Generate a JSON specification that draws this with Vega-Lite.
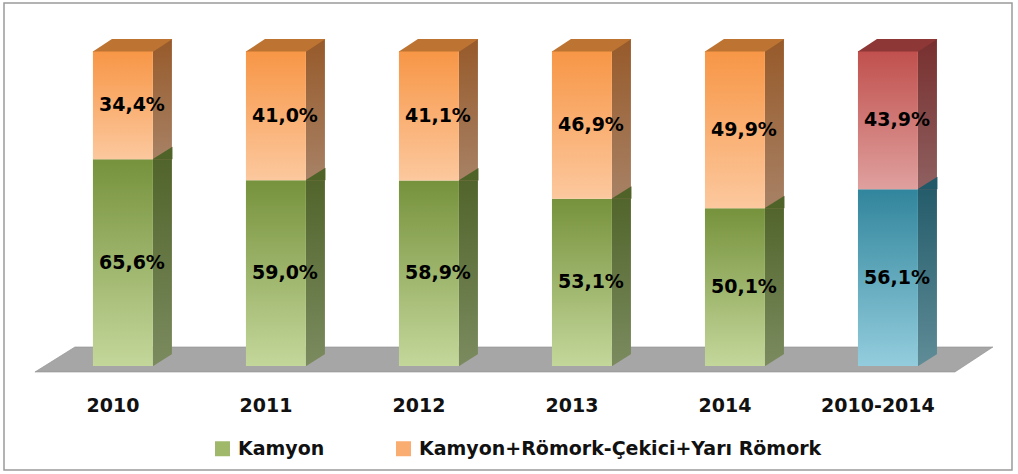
{
  "$schema": "https://vega.github.io/schema/vega-lite/v6.json",
  "width": 1008,
  "height": 467,
  "autosize": {"type": "none"},
  "padding": {"left": 4, "top": 3, "right": 6, "bottom": 4},
  "background": "#ffffff",
  "config": {
    "view": {"stroke": "#9a9a9a", "strokeWidth": 1.5},
    "locale": {"number": {"decimal": ",", "thousands": ".", "grouping": [3], "currency": ["", " TL"]}}
  },
  "data": {"values": [
    {"year": "2010", "type": "Kamyon", "value": 0.656},
    {"year": "2010", "type": "Kamyon+Römork-Çekici+Yarı Römork", "value": 0.344},
    {"year": "2011", "type": "Kamyon", "value": 0.590},
    {"year": "2011", "type": "Kamyon+Römork-Çekici+Yarı Römork", "value": 0.410},
    {"year": "2012", "type": "Kamyon", "value": 0.589},
    {"year": "2012", "type": "Kamyon+Römork-Çekici+Yarı Römork", "value": 0.411},
    {"year": "2013", "type": "Kamyon", "value": 0.531},
    {"year": "2013", "type": "Kamyon+Römork-Çekici+Yarı Römork", "value": 0.469},
    {"year": "2014", "type": "Kamyon", "value": 0.501},
    {"year": "2014", "type": "Kamyon+Römork-Çekici+Yarı Römork", "value": 0.499},
    {"year": "2010-2014", "type": "Kamyon", "value": 0.561},
    {"year": "2010-2014", "type": "Kamyon+Römork-Çekici+Yarı Römork", "value": 0.439}
  ]},
  "transform": [
    {"stack": "value", "groupby": ["year"], "sort": [{"field": "type", "order": "ascending"}], "as": ["lo", "hi"]}
  ],
  "encoding": {
    "x": {
      "field": "year", "type": "nominal", "sort": null,
      "scale": {"type": "band", "paddingInner": 0.608, "paddingOuter": 0.598, "align": 0.486},
      "axis": {
        "title": null, "domain": false, "ticks": false, "grid": false,
        "labelAngle": 0, "offset": -65, "labelPadding": 0, "labelBaseline": "middle",
        "labelOffset": -10,
        "labelFont": "DejaVu Sans", "labelFontWeight": "bold", "labelFontSize": 19, "labelColor": "#111111"
      }
    }
  },
  "layer": [
    {
      "transform": [{"filter": "datum.year === '2010' && datum.type === 'Kamyon'"}],
      "mark": {"type": "point", "shape": "M -88 6 L 832 6 L 870 -19 L -48 -19 Z", "size": 4, "filled": true, "opacity": 1, "color": "#a6a6a6", "stroke": "#8f8f8f", "strokeWidth": 0.6},
      "encoding": {"y": {"field": "lo", "type": "quantitative", "scale": {"domain": [-0.3302, 1.1524], "nice": false, "zero": false}, "axis": null}}
    },
    {
      "transform": [{"filter": "datum.type === 'Kamyon' && datum.year !== '2010-2014'"}],
      "mark": {"type": "bar", "width": 19, "xOffset": 39.5, "yOffset": -12,
        "color": {"gradient": "linear", "x1": 0, "y1": 0, "x2": 0, "y2": 1, "stops": [{"offset": 0, "color": "#4f6228"}, {"offset": 1, "color": "#7b8b5f"}]}},
      "encoding": {"y": {"field": "hi", "type": "quantitative"}, "y2": {"field": "lo"}}
    },
    {
      "transform": [{"filter": "datum.type === 'Kamyon' && datum.year === '2010-2014'"}],
      "mark": {"type": "bar", "width": 19, "xOffset": 39.5, "yOffset": -12,
        "color": {"gradient": "linear", "x1": 0, "y1": 0, "x2": 0, "y2": 1, "stops": [{"offset": 0, "color": "#215968"}, {"offset": 1, "color": "#5f8c97"}]}},
      "encoding": {"y": {"field": "hi", "type": "quantitative"}, "y2": {"field": "lo"}}
    },
    {
      "transform": [{"filter": "datum.type !== 'Kamyon' && datum.year !== '2010-2014'"}],
      "mark": {"type": "bar", "width": 19, "xOffset": 39.5, "yOffset": -12,
        "color": {"gradient": "linear", "x1": 0, "y1": 0, "x2": 0, "y2": 1, "stops": [{"offset": 0, "color": "#975a2a"}, {"offset": 1, "color": "#a78165"}]}},
      "encoding": {"y": {"field": "hi", "type": "quantitative"}, "y2": {"field": "lo"}}
    },
    {
      "transform": [{"filter": "datum.type !== 'Kamyon' && datum.year === '2010-2014'"}],
      "mark": {"type": "bar", "width": 19, "xOffset": 39.5, "yOffset": -12,
        "color": {"gradient": "linear", "x1": 0, "y1": 0, "x2": 0, "y2": 1, "stops": [{"offset": 0, "color": "#772f2e"}, {"offset": 1, "color": "#8f6060"}]}},
      "encoding": {"y": {"field": "hi", "type": "quantitative"}, "y2": {"field": "lo"}}
    },
    {
      "transform": [{"filter": "datum.type === 'Kamyon' && datum.year !== '2010-2014'"}],
      "mark": {"type": "point", "shape": "M 29.5 0 L 49.5 0 L 49.5 -12.5 Z", "size": 4, "filled": true, "opacity": 1, "color": "#4f6228", "strokeWidth": 0},
      "encoding": {"y": {"field": "hi", "type": "quantitative"}}
    },
    {
      "transform": [{"filter": "datum.type === 'Kamyon' && datum.year === '2010-2014'"}],
      "mark": {"type": "point", "shape": "M 29.5 0 L 49.5 0 L 49.5 -12.5 Z", "size": 4, "filled": true, "opacity": 1, "color": "#215968", "strokeWidth": 0},
      "encoding": {"y": {"field": "hi", "type": "quantitative"}}
    },
    {
      "transform": [{"filter": "datum.type === 'Kamyon'"}],
      "mark": {"type": "point", "shape": "M 29.5 0.5 L 50 0.5 L 50 -12.5 Z", "size": 4, "filled": true, "opacity": 1, "color": "#a6a6a6", "strokeWidth": 0},
      "encoding": {"y": {"field": "lo", "type": "quantitative"}}
    },
    {
      "transform": [{"filter": "datum.type === 'Kamyon' && datum.year !== '2010-2014'"}],
      "mark": {"type": "bar",
        "color": {"gradient": "linear", "x1": 0, "y1": 0, "x2": 0, "y2": 1, "stops": [{"offset": 0, "color": "#76923c"}, {"offset": 1, "color": "#c4d79b"}]}},
      "encoding": {"y": {"field": "hi", "type": "quantitative"}, "y2": {"field": "lo"}}
    },
    {
      "transform": [{"filter": "datum.type === 'Kamyon' && datum.year === '2010-2014'"}],
      "mark": {"type": "bar",
        "color": {"gradient": "linear", "x1": 0, "y1": 0, "x2": 0, "y2": 1, "stops": [{"offset": 0, "color": "#31859c"}, {"offset": 1, "color": "#93cddd"}]}},
      "encoding": {"y": {"field": "hi", "type": "quantitative"}, "y2": {"field": "lo"}}
    },
    {
      "transform": [{"filter": "datum.type !== 'Kamyon' && datum.year !== '2010-2014'"}],
      "mark": {"type": "bar",
        "color": {"gradient": "linear", "x1": 0, "y1": 0, "x2": 0, "y2": 1, "stops": [{"offset": 0, "color": "#f79646"}, {"offset": 1, "color": "#fcc89e"}]}},
      "encoding": {"y": {"field": "hi", "type": "quantitative"}, "y2": {"field": "lo"}}
    },
    {
      "transform": [{"filter": "datum.type !== 'Kamyon' && datum.year === '2010-2014'"}],
      "mark": {"type": "bar",
        "color": {"gradient": "linear", "x1": 0, "y1": 0, "x2": 0, "y2": 1, "stops": [{"offset": 0, "color": "#c0504d"}, {"offset": 1, "color": "#dfa09e"}]}},
      "encoding": {"y": {"field": "hi", "type": "quantitative"}, "y2": {"field": "lo"}}
    },
    {
      "transform": [{"filter": "datum.type !== 'Kamyon' && datum.year !== '2010-2014'"}],
      "mark": {"type": "point", "shape": "M -30 0.5 L 30.5 0.5 L 49.5 -12 L -11 -12 Z", "size": 4, "filled": true, "opacity": 1, "color": "#bd7433", "strokeWidth": 0},
      "encoding": {"y": {"field": "hi", "type": "quantitative"}}
    },
    {
      "transform": [{"filter": "datum.type !== 'Kamyon' && datum.year === '2010-2014'"}],
      "mark": {"type": "point", "shape": "M -30 0.5 L 30.5 0.5 L 49.5 -12 L -11 -12 Z", "size": 4, "filled": true, "opacity": 1, "color": "#8d3836", "strokeWidth": 0},
      "encoding": {"y": {"field": "hi", "type": "quantitative"}}
    },
    {
      "transform": [
        {"fold": ["lo", "hi"], "as": ["k", "v"]},
        {"aggregate": [{"op": "mean", "field": "v", "as": "mid"}, {"op": "max", "field": "value", "as": "share"}], "groupby": ["year", "type"]}
      ],
      "mark": {"type": "text", "dx": 9, "font": "DejaVu Sans", "fontWeight": "bold", "fontSize": 19, "color": "#000000", "baseline": "middle", "align": "center"},
      "encoding": {
        "y": {"field": "mid", "type": "quantitative"},
        "text": {"field": "share", "type": "quantitative", "format": ".1%"}
      }
    },
    {
      "mark": {"type": "bar", "opacity": 1},
      "encoding": {
        "y": {"field": "lo", "type": "quantitative"},
        "y2": {"field": "lo"},
        "color": {
          "field": "type", "type": "nominal",
          "scale": {"domain": ["Kamyon", "Kamyon+Römork-Çekici+Yarı Römork"], "range": ["#9fb86a", "#faad70"]},
          "legend": {
            "title": null, "orient": "none", "direction": "horizontal",
            "legendX": 209, "legendY": 436, "padding": 0,
            "symbolType": "square", "symbolSize": 225, "symbolStrokeWidth": 0, "symbolOpacity": 1,
            "labelFont": "DejaVu Sans", "labelFontWeight": "bold", "labelFontSize": 19, "labelColor": "#111111",
            "labelOffset": 6, "columnPadding": 69, "labelLimit": 600
          }
        }
      }
    }
  ]
}
